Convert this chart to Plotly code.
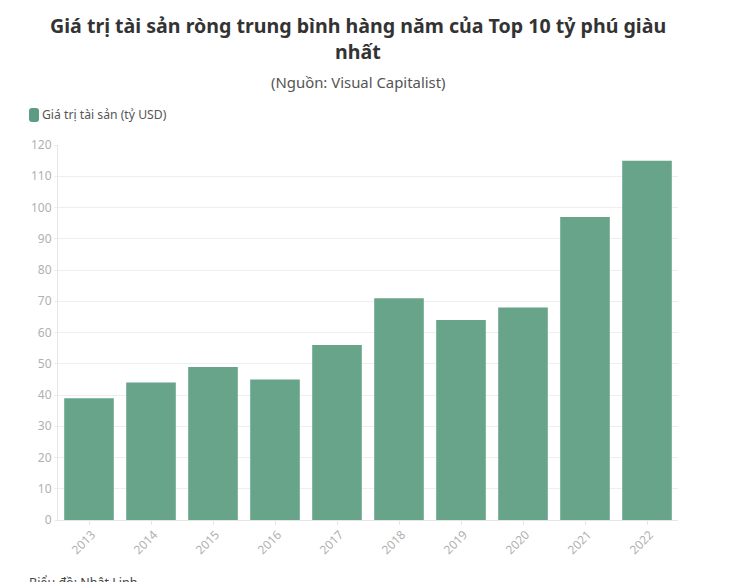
import plotly.graph_objects as go

years = ["2013","2014","2015","2016","2017","2018","2019","2020","2021","2022"]
values = [39,44,49,45,56,71,64,68,97,115]
ticks = list(range(0,121,10))
F = "Noto Sans"
W, H = 742, 582
OFF = 8           # page margin around the figure
L, R, T, B = 50, 72, 137, 70

fig = go.Figure(go.Bar(x=years, y=values, marker=dict(color="#67a48a", line_width=0), width=0.8,
                       name="Giá trị tài sản (tỷ USD)", showlegend=False))
fig.update_layout(
    width=W, height=H, margin=dict(l=L, r=R, t=T, b=B),
    paper_bgcolor="white", plot_bgcolor="white", font=dict(family=F, color="#333333"),
    xaxis=dict(type="category", tickangle=-45, tickfont=dict(size=12, color="#b0b0b0"), ticks="outside",
               ticklen=4, tickcolor="#e6e6e6", showline=True, linecolor="#e6e6e6", showgrid=False,
               ticklabelshift=3, ticklabelstandoff=-2),
    yaxis=dict(range=[0,120], tickvals=ticks, tickfont=dict(size=12, color="#b0b0b0"), gridcolor="#eeeeee",
               showline=True, linecolor="#e6e6e6", zeroline=False, ticks="outside", ticklen=3, tickcolor="#eeeeee"),
)
pw, ph = W-L-R, H-T-B
def px(x): return (x-OFF-L)/pw
def py(y): return 1-(y-OFF-T)/ph
def ax(t, x, y, size, color, anchor="center", vanchor="middle"):
    fig.add_annotation(text=t, xref="paper", yref="paper", xanchor=anchor, yanchor=vanchor,
                       x=px(x), y=py(y), showarrow=False,
                       font=dict(size=size, color=color, family=F), align="center")
ax("<b>Giá trị tài sản ròng trung bình hàng năm của Top 10 tỷ phú giàu</b>", 358, 26, 19.6, "#333333")
ax("<b>nhất</b>", 358, 51, 19.6, "#333333")
ax("(Nguồn: Visual Capitalist)", 358, 82, 14.9, "#555555")
ax("Giá trị tài sản (tỷ USD)", 40, 115, 12.2, "#555555", anchor="left")
ax("Biểu đồ: Nhật Linh", 27, 582, 12.5, "#444444", anchor="left")
swatch = "M -2 -7 L 2 -7 Q 5 -7 5 -4 L 5 4 Q 5 7 2 7 L -2 7 Q -5 7 -5 4 L -5 -4 Q -5 -7 -2 -7 Z"
fig.add_shape(type="path", xref="paper", yref="paper", xsizemode="pixel", ysizemode="pixel",
              xanchor=px(34), yanchor=py(115), path=swatch, fillcolor="#5d9c82", line_width=0)
fig.write_html("out.html")
